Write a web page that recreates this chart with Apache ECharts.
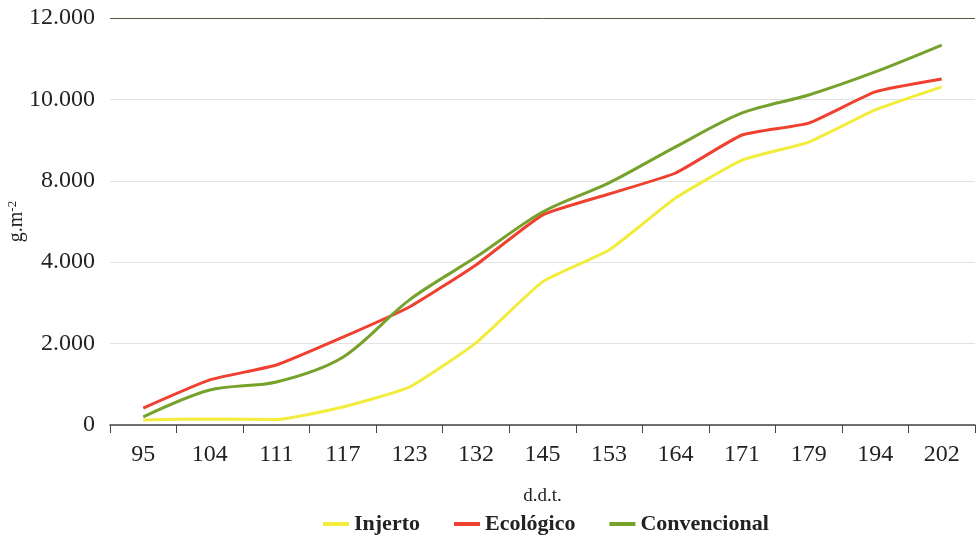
<!DOCTYPE html>
<html>
<head>
<meta charset="utf-8">
<script src="https://cdn.jsdelivr.net/npm/echarts@6/dist/echarts.min.js"></script>
<style>
  html, body { margin: 0; padding: 0; background: #fff; }
  #chart { width: 979px; height: 540px; }
</style>
</head>
<body>
<div id="chart"></div>
<script>
// days after transplant (d.d.t.)
const days = ['95', '104', '111', '117', '123', '132', '145', '153', '164', '171', '179', '194', '202'];
// y tick labels as printed in the original (the 6.000 step is printed as 4.000)
const yTicks = ['0', '2.000', '4.000', '8.000', '10.000', '12.000'];

// values read on the chart's own visual scale (top line = 12000)
const injerto = [150, 180, 160, 530, 1120, 2420, 4220, 5160, 6690, 7810, 8340, 9290, 9970];
const ecologico = [500, 1330, 1770, 2590, 3480, 4720, 6190, 6810, 7430, 8550, 8900, 9820, 10200];
const convencional = [240, 1030, 1270, 2000, 3690, 4950, 6280, 7140, 8200, 9200, 9730, 10410, 11200];

const serif = '"Liberation Serif", "DejaVu Serif", serif';

const chart = echarts.init(document.getElementById('chart'));

const lineSeries = (name, data, color, smooth) => ({
  name: name,
  type: 'line',
  data: data,
  smooth: smooth,
  symbol: 'none',
  lineStyle: { color: color, width: 3 },
  itemStyle: { color: color }
});

const option = {
  animation: false,
  textStyle: { fontFamily: serif },
  grid: { left: 110, right: 4, top: 18, bottom: 115, outerBoundsMode: 'none' },
  legend: {
    bottom: 0,
    left: 318,
    itemGap: 34,
    itemWidth: 26,
    itemHeight: 4,
    icon: 'rect',
    textStyle: { fontFamily: serif, fontSize: 22, fontWeight: 'bold', color: '#222' },
    data: ['Injerto', 'Ecológico', 'Convencional']
  },
  xAxis: {
    type: 'category',
    data: days,
    boundaryGap: true,
    name: 'd.d.t.',
    nameLocation: 'middle',
    nameGap: 62,
    nameMoveOverlap: false,
    nameTextStyle: { fontFamily: serif, fontSize: 19, color: '#222' },
    axisLine: { lineStyle: { color: '#444', width: 1.5 } },
    axisTick: { show: true, length: 8, lineStyle: { color: '#444' } },
    axisLabel: { fontFamily: serif, fontSize: 24, color: '#222', margin: 18 },
    splitLine: { show: false }
  },
  yAxis: {
    type: 'value',
    min: 0,
    max: 12000,
    interval: 2400,
    name: 'g.m{sup|-2}',
    nameLocation: 'middle',
    nameRotate: 90,
    nameGap: 82,
    nameMoveOverlap: false,
    nameTextStyle: {
      fontFamily: serif, fontSize: 20, color: '#222',
      rich: { sup: { fontFamily: serif, fontSize: 13, color: '#222', verticalAlign: 'top', padding: [0, 0, 9, 0] } }
    },
    axisLine: { show: false },
    axisTick: { show: false },
    axisLabel: {
      fontFamily: serif, fontSize: 24, color: '#222', margin: 15,
      formatter: (v) => yTicks[Math.round(v / 2400)]
    },
    splitLine: {
      lineStyle: { color: ['#e2e2e2', '#e2e2e2', '#e2e2e2', '#e2e2e2', '#e2e2e2', '#4d5a40'], width: 1 }
    }
  },
  series: [
    lineSeries('Injerto', injerto, '#f2ec3c', 0.15),
    lineSeries('Ecológico', ecologico, '#ef4030', 0.15),
    lineSeries('Convencional', convencional, '#76a22c', 0.3)
  ]
};

chart.setOption(option);
</script>
</body>
</html>
